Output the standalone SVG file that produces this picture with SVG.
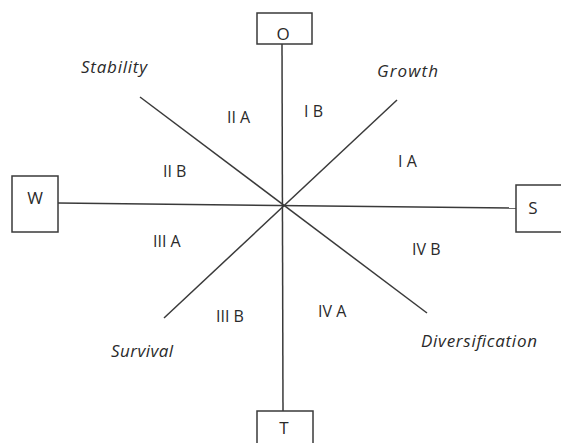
<svg xmlns="http://www.w3.org/2000/svg" width="561" height="443" viewBox="0 0 561 443">
<style>
.box{fill:#fff;stroke:#3a3a3a;stroke-width:1.5}
.ln{stroke:#3a3a3a;stroke-width:1.5;fill:none}
.t{font-family:"Open Sans","Liberation Sans",sans-serif;font-size:16px;fill:#2a2a2a}
.bt{font-family:"Open Sans","Liberation Sans",sans-serif;font-size:17px;fill:#2a2a2a;text-anchor:middle}
.it{font-family:"Open Sans","Liberation Sans",sans-serif;font-size:17px;font-style:italic;fill:#2a2a2a}
</style>
<rect width="561" height="443" fill="#fff"/>
<g id="connectors">
<line class="ln" x1="282" y1="44" x2="283" y2="411"/>
<line class="ln" x1="58" y1="203" x2="516" y2="208"/>
<line class="ln" x1="140" y1="97" x2="427" y2="313"/>
<line class="ln" x1="397" y1="100" x2="164" y2="318"/>
</g>
<g id="node-O"><rect class="box" x="257" y="13" width="55" height="31"/><text class="bt" x="283" y="40">O</text></g>
<g id="node-W"><rect class="box" x="12" y="176" width="46" height="56"/><text class="bt" x="35" y="204">W</text></g>
<g id="node-S"><rect class="box" x="516" y="185" width="50" height="47"/><text class="bt" x="533" y="214">S</text></g>
<g id="node-T"><rect class="box" x="257" y="411" width="56" height="40"/><text class="bt" x="284" y="434">T</text></g>
<g id="labels">
<text class="it" x="81" y="73" textLength="66">Stability</text>
<text class="it" x="377" y="77" textLength="61">Growth</text>
<text class="it" x="111" y="357" textLength="62">Survival</text>
<text class="it" x="421" y="347" textLength="116">Diversification</text>
<text class="t" x="227" y="123">II A</text>
<text class="t" x="163" y="177">II B</text>
<text class="t" x="304" y="117">I B</text>
<text class="t" x="398" y="167">I A</text>
<text class="t" x="153" y="247">III A</text>
<text class="t" x="216" y="322">III B</text>
<text class="t" x="412" y="255">IV B</text>
<text class="t" x="318" y="317">IV A</text>
</g>
</svg>
